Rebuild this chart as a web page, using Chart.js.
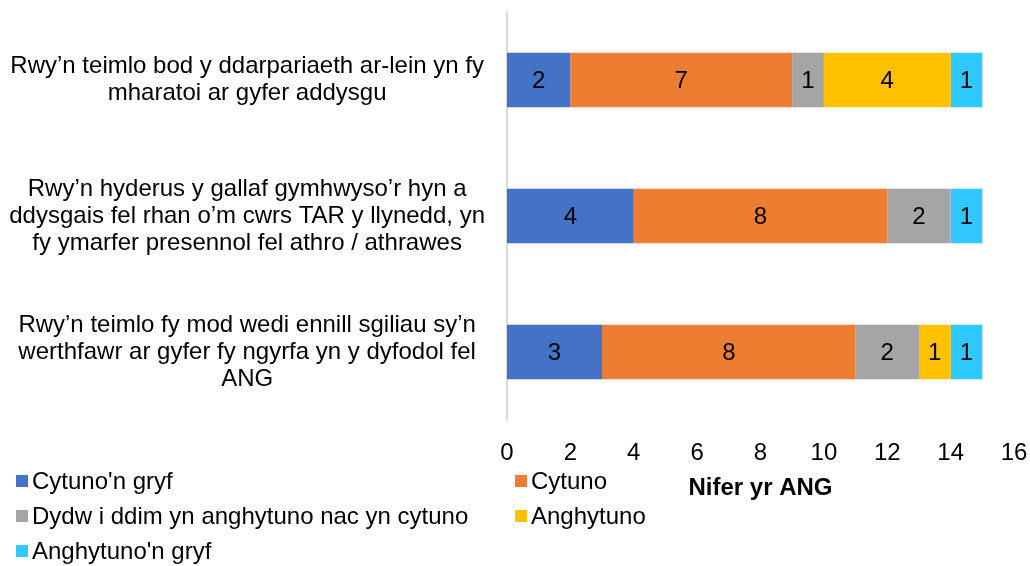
<!DOCTYPE html>
<html>
<head>
<meta charset="utf-8">
<script src="https://cdn.jsdelivr.net/npm/chart.js@4/dist/chart.umd.min.js"></script>
<style>
html,body{margin:0;padding:0;background:#fff;}
#wrap{position:relative;width:1030px;height:566px;overflow:hidden;}
#c{position:absolute;left:0;top:0;}
.item{position:absolute;font:24px "Liberation Sans",Arial,sans-serif;color:#000;display:flex;align-items:center;white-space:nowrap;height:30px;line-height:30px;}
.sw{width:12px;height:12px;margin-right:4px;flex:none;}
</style>
</head>
<body>
<div id="wrap">
<canvas id="c" width="1030" height="566"></canvas>
<div id="legend"></div>
</div>
<script>
const categories = [
  ["Rwy’n teimlo bod y ddarpariaeth ar-lein yn fy", "mharatoi ar gyfer addysgu"],
  ["Rwy’n hyderus y gallaf gymhwyso’r hyn a", "ddysgais fel rhan o’m cwrs TAR y llynedd, yn", "fy ymarfer presennol fel athro / athrawes"],
  ["Rwy’n teimlo fy mod wedi ennill sgiliau sy’n", "werthfawr ar gyfer fy ngyrfa yn y dyfodol fel", "ANG"]
];
const seriesNames = ["Cytuno'n gryf", "Cytuno", "Dydw i ddim yn anghytuno nac yn cytuno", "Anghytuno", "Anghytuno'n gryf"];
const cytunoGryf = [2, 4, 3];
const cytuno = [7, 8, 8];
const niwtral = [1, 2, 2];
const anghytuno = [4, 0, 1];
const anghytunoGryf = [1, 1, 1];
const xTicks = [0, 2, 4, 6, 8, 10, 12, 14, 16];
const axisTitle = "Nifer yr ANG";
const colors = ["#4472C4", "#ED7D31", "#A5A5A5", "#FFC000", "#2FC8FF"];

const seriesValues = [cytunoGryf, cytuno, niwtral, anghytuno, anghytunoGryf];
const FONT = '"Liberation Sans", Arial, sans-serif';

const valueLabels = {
  id: 'valueLabels',
  afterDatasetsDraw(chart) {
    const ctx = chart.ctx;
    ctx.save();
    ctx.font = '24px ' + FONT;
    ctx.fillStyle = '#000';
    ctx.textAlign = 'center';
    ctx.textBaseline = 'middle';
    chart.data.datasets.forEach((ds, di) => {
      const meta = chart.getDatasetMeta(di);
      meta.data.forEach((el, i) => {
        const v = ds.data[i];
        if (!v) return;
        const p = el.getProps(['x', 'y', 'base'], true);
        ctx.fillText(String(v), (p.x + p.base) / 2, p.y + 1);
      });
    });
    ctx.restore();
  }
};

new Chart(document.getElementById('c'), {
  type: 'bar',
  data: {
    labels: categories,
    datasets: seriesNames.map((n, i) => ({
      label: n,
      data: seriesValues[i],
      backgroundColor: colors[i],
      borderWidth: 0,
      categoryPercentage: 0.8,
      barPercentage: 0.5
    }))
  },
  options: {
    indexAxis: 'y',
    responsive: false,
    animation: false,
    layout: { padding: { left: 0, right: 16, top: 12, bottom: 56 } },
    plugins: { legend: { display: false }, tooltip: { enabled: false } },
    scales: {
      x: {
        stacked: true,
        min: 0, max: 16,
        afterBuildTicks(scale) { scale.ticks = xTicks.map(v => ({ value: v })); },
        grid: { display: false },
        border: { display: false },
        ticks: { color: '#000', font: { family: FONT, size: 24 }, padding: 11, maxRotation: 0 },
        title: { display: true, text: axisTitle, color: '#000', font: { family: FONT, size: 24, weight: 'bold' }, padding: { top: 0, bottom: 7 } },
        afterFit(scale) { scale.height = 90; scale.paddingLeft = 0; scale.paddingRight = 0; }
      },
      y: {
        stacked: true,
        grid: { display: false },
        border: { display: true, color: '#D9D9D9', width: 2 },
        ticks: { color: '#000', font: { family: FONT, size: 24, lineHeight: 1.125 }, padding: 14, crossAlign: 'center', autoSkip: false },
        afterFit(scale) { scale.width = 507; scale.paddingTop = 0; scale.paddingBottom = 0; }
      }
    }
  },
  plugins: [valueLabels]
});

const legend = document.getElementById('legend');
seriesNames.forEach((n, i) => {
  const col = i % 2, row = Math.floor(i / 2);
  const d = document.createElement('div');
  d.className = 'item';
  d.style.left = (col ? 515 : 16) + 'px';
  d.style.top = (481 + row * 35 - 15) + 'px';
  const sw = document.createElement('span');
  sw.className = 'sw';
  sw.style.background = colors[i];
  const t = document.createElement('span');
  t.textContent = n;
  d.appendChild(sw); d.appendChild(t);
  legend.appendChild(d);
});
</script>
</body>
</html>
